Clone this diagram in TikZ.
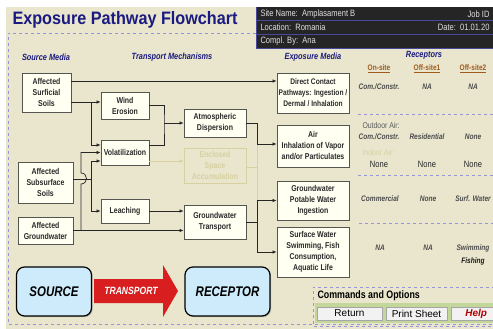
\documentclass[tikz,border=0pt]{standalone}
\usepackage{fontspec}
\setmainfont{Liberation Sans}
\newfontfamily\narrowsf[FakeStretch=0.82]{Liberation Sans}
\newfontfamily\titlesf[FakeStretch=0.9]{Liberation Sans}
\usepackage{xcolor}
\usetikzlibrary{arrows.meta,calc,shadows}

\definecolor{panelbg}{HTML}{E9E6CD}
\definecolor{boxfill}{HTML}{FFFFF2}
\definecolor{boxline}{HTML}{555550}
\definecolor{boxtext}{HTML}{2A2A2A}
\definecolor{navy}{HTML}{1A1A80}
\definecolor{headbg}{HTML}{252525}
\definecolor{lavender}{HTML}{9595DC}
\definecolor{fadedln}{HTML}{D8D0A0}
\definecolor{brownlbl}{HTML}{A05A1E}
\definecolor{sourceblue}{HTML}{CDEBFA}
\definecolor{transred}{HTML}{D81E1E}
\definecolor{cmdgreen}{HTML}{C3D79A}

\begin{document}
\begin{tikzpicture}[
  x=1pt, y=-1pt,
  box/.style={draw=boxline, line width=0.8pt, fill=boxfill, align=center, inner sep=0pt,
    text=boxtext, font=\narrowsf\bfseries\fontsize{8.5}{11}\selectfont},
  fadedbox/.style={box, draw=fadedln, fill=none, text=fadedln},
  arrow/.style={-{Latex[length=4pt,width=3.5pt]}, line width=0.7pt, draw=black!85},
  link/.style={line width=0.7pt, draw=black!85},
  fadedarrow/.style={arrow, draw=fadedln},
  colhead/.style={text=navy, font=\narrowsf\bfseries\itshape\fontsize{9}{11}\selectfont},
  sitehead/.style={text=brownlbl, font=\narrowsf\bfseries\fontsize{8}{10}\selectfont},
  rlabel/.style={text=black!70, font=\narrowsf\bfseries\itshape\fontsize{8}{10}\selectfont},
  rplain/.style={text=black!85, font=\narrowsf\fontsize{9.2}{11}\selectfont},
  airlbl/.style={anchor=west, font=\narrowsf\fontsize{8.4}{10}\selectfont},
  infotext/.style={anchor=west, text=white!88!black, font=\narrowsf\fontsize{9.2}{10}\selectfont},
  sep/.style={lavender, dashed, line width=0.6pt},
  bigbox/.style={draw=black, line width=1.2pt, fill=sourceblue, rounded corners=8pt,
    minimum width=75pt, minimum height=49pt, inner sep=0pt,
    drop shadow={opacity=0.45, shadow xshift=1.2pt, shadow yshift=-1.2pt},
    font=\narrowsf\bfseries\itshape\fontsize{14}{16}\selectfont},
  button/.style={draw=black!35, fill=black!5, inner sep=0pt, minimum height=13pt,
    font=\fontsize{10}{12}\selectfont}
]
\useasboundingbox (0,0) rectangle (493,329);
\fill[panelbg] (6,7) rectangle (493,329);

% title and site info
\node[anchor=west, text=navy, font=\titlesf\bfseries\fontsize{18}{20}\selectfont] (title) at (9,20) {Exposure Pathway Flowchart};
\fill[headbg] (256,7) rectangle (493,48);
\draw[navy!80, line width=0.7pt] (256,7) -- (256,48) (256,20.5) -- (493,20.5) (256,34) -- (493,34) (256,48) -- (493,48);
\node[infotext] (site) at (257,14) {Site Name:\ \ Amplasament B};
\node[infotext] (loc) at (257,27) {Location:\ \ Romania};
\node[infotext] (compl) at (257,41) {Compl. By:\ \ Ana};
\node[infotext, anchor=east] (jobid) at (493,14) {Job ID};
\node[infotext, anchor=east] (date) at (493,27) {Date:\ \ 01.01.20};

% dashed frame
\draw[sep] (256,33) -- (8,33) -- (8,324) -- (493,324);

% column headers
\node[colhead] (hsrc) at (46,57) {Source Media};
\node[colhead] (htrans) at (172,57) {Transport Mechanisms};
\node[colhead] (hexp) at (313,57) {Exposure Media};
\node[colhead] (hrec) at (424,55) {Receptors};
\node[sitehead] (onsite) at (379,69) {\underline{On-site}};
\node[sitehead] (off1) at (427,69) {\underline{Off-site1}};
\node[sitehead] (off2) at (473,69) {\underline{Off-site2}};

% source media
\node[box, minimum width=49pt, minimum height=39pt] (surf) at (46.5,92.5) {Affected\\Surficial\\Soils};
\node[box, minimum width=55pt, minimum height=41pt] (subsoil) at (45.5,182.5) {Affected\\Subsurface\\Soils};
\node[box, minimum width=55pt, minimum height=27pt] (gwsrc) at (45.5,230.5) {Affected\\Groundwater};

% transport mechanisms
\node[box, minimum width=48pt, minimum height=27pt] (wind) at (125,105.5) {Wind\\Erosion};
\node[box, minimum width=48pt, minimum height=25pt] (volat) at (125,152.5) {Volatilization};
\node[box, minimum width=48pt, minimum height=24pt] (leach) at (125,211) {Leaching};
\node[box, minimum width=62pt, minimum height=28pt] (atmos) at (215,123) {Atmospheric\\Dispersion};
\node[fadedbox, minimum width=62pt, minimum height=35pt] (encl) at (215,165.5) {Enclosed\\Space\\Accumulation};
\node[box, minimum width=62pt, minimum height=34pt] (gwtrans) at (215,222) {Groundwater\\Transport};

% exposure media
\node[box, minimum width=72pt, minimum height=40pt, font=\narrowsf\bfseries\fontsize{8.1}{11}\selectfont] (direct) at (313,93) {Direct Contact\\Pathways: Ingestion /\\Dermal / Inhalation};
\node[box, minimum width=72pt, minimum height=42pt] (air) at (313,146) {Air\\Inhalation of Vapor\\and/or Particulates};
\node[box, minimum width=72pt, minimum height=39pt] (potable) at (313,200.5) {Groundwater\\Potable Water\\Ingestion};
\node[box, minimum width=72pt, minimum height=50pt] (surfw) at (313,252) {Surface Water\\Swimming, Fish\\Consumption,\\Aquatic Life};

% junctions
\coordinate (jsurf) at (91,102);
\coordinate (jsub) at (91,179);
\coordinate (jgw) at (81,230.5);
\coordinate (jwv) at (164,123);
\coordinate (jair) at (257,144);
\coordinate (jgwt) at (257,222);

% source to transport
\draw[arrow] ($(surf.east)+(0,-11.5)$) coordinate (s1) -- (s1 -| direct.west);
\draw[arrow] ($(surf.east)+(0,9.5)$) -- (jsurf -| wind.west);
\draw[arrow] (jsurf) |- ($(volat.west)+(0,-7.5)$);
\draw[link] ($(subsoil.east)+(0,-3.5)$) -- (jsub);
\draw[arrow] (jsub) |- ($(volat.west)+(0,8.5)$);
\draw[arrow] (jsub) |- (leach.west);
\draw[arrow] (gwsrc.east) -- (gwsrc.east -| gwtrans.west);
\draw[arrow] (jgw) -- ++(0,-46.5) to[out=0, in=0, looseness=1.7] ++(0,-11) |- (volat.west);
\draw[arrow] (leach.east) -- (leach.east -| gwtrans.west);

% transport to exposure
\draw[link] (wind.east) -| (jwv) |- ($(volat.east)+(0,-7.5)$);
\draw[arrow] (jwv) -- (atmos.west);
\draw[fadedarrow] ($(volat.east)+(0,8.5)$) coordinate (v2) -- (v2 -| encl.west);
\draw[fadedln, line width=0.7pt] ($(encl.east)+(0,1.5)$) coordinate (e1) -- (e1 -| jair);
\draw[fadedln, line width=0.7pt] (jair) -- (jair |- potable.west);
\draw[arrow] (atmos.east) -| (jair) -- (jair -| air.west);
\draw[link] (gwtrans.east) -- (jgwt);
\draw[arrow] (jgwt) |- (potable.west);
\draw[arrow] (jgwt) |- (surfw.west);

% receptors table
\node[rlabel] (r1a) at (379,87) {Com./Constr.};
\node[rlabel] (r1b) at (427,87) {NA};
\node[rlabel] (r1c) at (473,87) {NA};
\draw[sep] (358,114) -- (493,114);
\node[airlbl, text=black!65] (outair) at (359,125) {Outdoor Air:};
\node[rlabel] (r2a) at (379,137) {Com./Constr.};
\node[rlabel] (r2b) at (427,137) {Residential};
\node[rlabel] (r2c) at (473,137) {None};
\node[airlbl, text=fadedln] (inair) at (359,152) {Indoor Air:};
\node[rplain] (r2d) at (379,164) {None};
\node[rplain] (r2e) at (427,164) {None};
\node[rplain] (r2f) at (473,164) {None};
\draw[sep] (358,175) -- (493,175);
\node[rlabel] (r3a) at (380,199) {Commercial};
\node[rlabel] (r3b) at (428,199) {None};
\node[rlabel] (r3c) at (473,199) {Surf. Water};
\draw[sep] (359,223) -- (493,223);
\node[rlabel] (r4a) at (380,248) {NA};
\node[rlabel] (r4b) at (428,248) {NA};
\node[rlabel] (r4c) at (473,248) {Swimming};
\node[rlabel, text=black!90] (r4d) at (473,261) {Fishing};

% source - transport - receptor
\node[bigbox] (source) at (54,291.5) {SOURCE};
\fill[transred] (94,279) -- (163,279) -- (163,265) -- (178,291) -- (163,317) -- (163,303) -- (94,303) -- cycle;
\node[text=white, font=\narrowsf\bfseries\itshape\fontsize{10.5}{12}\selectfont] (transport) at (131,291) {TRANSPORT};
\node[bigbox, minimum width=85pt] (receptor) at (227.5,291.5) {RECEPTOR};

% commands
\fill[cmdgreen] (315,303) rectangle (493,323);
\draw[sep] (495,287) -- (313,287) -- (313,326) -- (495,326);
\node[anchor=west, font=\narrowsf\bfseries\fontsize{10.8}{12}\selectfont] (cmds) at (314,296) {Commands and Options};
\node[button, minimum width=65pt] (return) at (349.5,313.5) {Return};
\node[button, minimum width=61pt] (print) at (416.5,313.5) {Print Sheet};
\node[button, minimum width=50pt, anchor=west, text=red!70!black, font=\bfseries\itshape\fontsize{10}{12}\selectfont] (help) at (451,313.5) {Help};
\end{tikzpicture}
\end{document}
